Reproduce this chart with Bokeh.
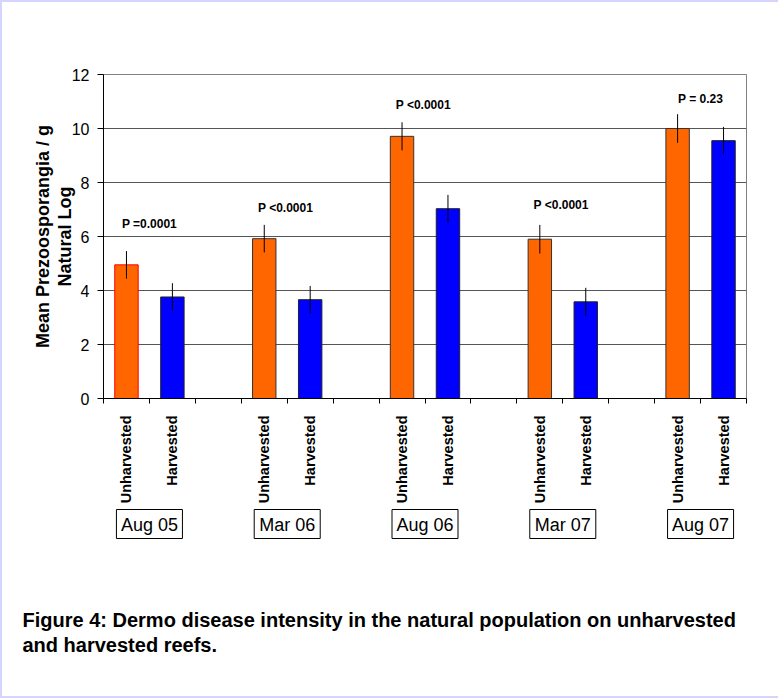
import math
from bokeh.plotting import figure
from bokeh.layouts import column
from bokeh.models import Range1d, FixedTicker
from bokeh.core.properties import value
from bokeh.embed import file_html
from bokeh.resources import INLINE

# ---------------- data ----------------
groups = ["Aug 05", "Mar 06", "Aug 06", "Mar 07", "Aug 07"]
treatments = ["Unharvested", "Harvested"]
unharvested = [4.95, 5.92, 9.71, 5.90, 10.00]
harvested = [3.76, 3.66, 7.03, 3.58, 9.55]
unharvested_err = [0.51, 0.51, 0.52, 0.53, 0.53]
harvested_err = [0.51, 0.51, 0.51, 0.52, 0.51]
p_values = ["P =0.0001", "P  <0.0001", "P  <0.0001", "P  <0.0001", "P = 0.23"]
y_ticks = [0, 2, 4, 6, 8, 10, 12]
y_title = "Mean Prezoosporangia / g\nNatural Log"
caption = ["Figure 4:  Dermo disease intensity in the natural population on unharvested",
           "and harvested reefs."]

# ---------------- layout / style ----------------
p_label_y = [6.47, 7.07, 10.87, 7.17, 11.08]
unh_outline = ["#ff0000", "#333333", "#333333", "#333333", "#333333"]
FONT = "Liberation Sans"
W = 778
H_TOP = 506
H_BOT = 698 - H_TOP
FRAME_L, FRAME_R = 103, 746
N_SLOTS = 14
SLOT = (FRAME_R - FRAME_L) / N_SLOTS

p = figure(width=W, height=H_TOP, x_range=Range1d(0, N_SLOTS), y_range=Range1d(0, 12),
           output_backend="svg", toolbar_location=None,
           min_border_left=FRAME_L, min_border_right=W - FRAME_R,
           min_border_top=74, min_border_bottom=H_TOP - 405)
p.background_fill_color = None
p.border_fill_color = None
p.outline_line_color = "#808080"
p.outline_line_width = 1

n = len(groups)
x_unh = [3 * i + 0.5 for i in range(n)]
x_har = [3 * i + 1.5 for i in range(n)]

# axes / grid
p.xgrid.visible = False
p.ygrid.ticker = FixedTicker(ticks=y_ticks)
p.ygrid.grid_line_color = "#555555"
p.ygrid.grid_line_width = 1

p.vbar(x=x_unh, top=unharvested, bottom=0, width=0.51, fill_color="#ff6600",
       line_color=unh_outline, line_width=1)
p.vbar(x=x_har, top=harvested, bottom=0, width=0.51, fill_color="#0000ff",
       line_color="#222222", line_width=1)

p.segment(x0=x_unh, x1=x_unh,
          y0=[v - e for v, e in zip(unharvested, unharvested_err)],
          y1=[v + e for v, e in zip(unharvested, unharvested_err)],
          line_color="black", line_width=1)
p.segment(x0=x_har, x1=x_har,
          y0=[v - e for v, e in zip(harvested, harvested_err)],
          y1=[v + e for v, e in zip(harvested, harvested_err)],
          line_color="black", line_width=1)

# P-value labels
p.text(x=[3 * i + 1 for i in range(n)], y=p_label_y, text=p_values,
       text_align="center", text_baseline="middle", text_font=value(FONT),
       text_font_style="bold", text_font_size="12px", text_color="black")

ya = p.yaxis[0]
ya.ticker = FixedTicker(ticks=y_ticks)
ya.axis_line_color = "black"
ya.major_tick_line_color = "black"
ya.major_tick_out = 6
ya.major_tick_in = 0
ya.minor_tick_line_color = None
ya.major_label_standoff = 8
ya.major_label_text_font = FONT
ya.major_label_text_font_size = "16px"
ya.major_label_text_color = "black"
ya.axis_label = y_title
ya.axis_label_text_font = FONT
ya.axis_label_text_font_style = "bold"
ya.axis_label_text_font_size = "18px"
ya.axis_label_text_color = "black"
ya.axis_label_text_line_height = 1.11
ya.axis_label_standoff = -6

xa = p.xaxis[0]
centers = sorted(x_unh + x_har)
xa.ticker = FixedTicker(ticks=centers, minor_ticks=list(range(N_SLOTS + 1)))
overrides = {}
for xu, xh in zip(x_unh, x_har):
    overrides[xu] = treatments[0]
    overrides[xh] = treatments[1]
xa.major_label_overrides = overrides
xa.major_label_orientation = math.pi / 2
xa.axis_line_color = "black"
xa.major_tick_line_color = None
xa.major_tick_out = 0
xa.major_tick_in = 0
xa.minor_tick_line_color = "black"
xa.minor_tick_out = 5
xa.minor_tick_in = 0
xa.major_label_standoff = 12
xa.major_label_text_font = FONT
xa.major_label_text_font_style = "bold"
xa.major_label_text_font_size = "14.5px"
xa.major_label_text_color = "black"

# ---------------- lower panel: group boxes and caption ----------------
q = figure(width=W, height=H_BOT,
           x_range=Range1d(-FRAME_L / SLOT, (W - FRAME_L) / SLOT),
           y_range=Range1d(698, H_TOP),
           output_backend="svg", toolbar_location=None,
           min_border_left=0, min_border_right=0, min_border_top=0, min_border_bottom=0)
q.axis.visible = False
q.grid.visible = False
q.outline_line_color = None
q.background_fill_color = None
q.border_fill_color = None

for fig in (p, q):
    try:
        fig.frame_align = False
    except Exception:
        pass

gx = [3 * i + 1 for i in range(n)]
q.rect(x=gx, y=[523.5] * n, width=66, height=29, width_units="screen", height_units="screen",
       fill_color="white", line_color="black", line_width=1)
q.text(x=gx, y=[524.5] * n, text=groups, text_align="center", text_baseline="middle",
       text_font=value(FONT), text_font_size="18px", text_color="black")

cap_x = (22 - FRAME_L) / SLOT
q.text(x=[cap_x, cap_x], y=[619, 644], text=caption, text_align="left",
       text_baseline="alphabetic", text_font=value(FONT), text_font_style="bold",
       text_font_size="20px", text_color="black")

layout = column(p, q, spacing=0,
                styles={"box-shadow": "inset 2px 2px 0 0 #d4d4ff, inset 0 -2px 0 0 #d4d4ff",
                        "background-color": "white"})

open("out.html", "w").write(file_html(layout, INLINE))
